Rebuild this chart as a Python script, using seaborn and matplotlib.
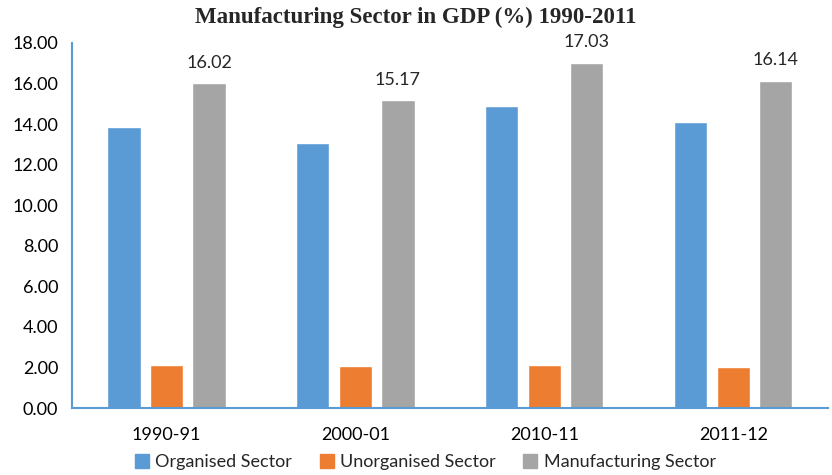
import matplotlib
matplotlib.use("Agg")
import matplotlib.pyplot as plt
import seaborn as sns
import pandas as pd
from matplotlib.ticker import FormatStrFormatter, MultipleLocator
from matplotlib.lines import Line2D

years = ["1990-91", "2000-01", "2010-11", "2011-12"]
series_names = ["Organised Sector", "Unorganised Sector", "Manufacturing Sector"]
organised = [13.85, 13.09, 14.90, 14.08]
unorganised = [2.13, 2.08, 2.13, 2.04]
manufacturing = [16.02, 15.17, 17.03, 16.14]
colors = ["#5B9BD5", "#ED7D31", "#A5A5A5"]

rows = []
for name, vals in zip(series_names, [organised, unorganised, manufacturing]):
    for y, v in zip(years, vals):
        rows.append({"Year": y, "Series": name, "Value": v})
df = pd.DataFrame(rows)

sns.set_theme(style="white")
plt.rcParams["font.family"] = ["Lato", "DejaVu Sans"]

fig = plt.figure(figsize=(8.32, 4.75), dpi=100)
ax = fig.add_axes([0.0865, 0.141, 0.9085, 0.7685])

sns.barplot(data=df, x="Year", y="Value", hue="Series", palette=colors,
            width=0.675, gap=0.22, ax=ax, legend=False, saturation=1)

ax.set_ylim(0, 18)
ax.set_xlim(-0.5, 3.5)
ax.yaxis.set_major_locator(MultipleLocator(2))
ax.yaxis.set_major_formatter(FormatStrFormatter("%.2f"))
ax.set_xlabel("")
ax.set_ylabel("")
ax.tick_params(axis="both", length=0, labelsize=13, colors="#000000")
ax.tick_params(axis="x", pad=14)
ax.tick_params(axis="y", pad=10)

for s in ["top", "right"]:
    ax.spines[s].set_visible(False)
for s in ["left", "bottom"]:
    ax.spines[s].set_color("#5B9BD5")
    ax.spines[s].set_linewidth(1.5)

# label only manufacturing bars
ax.bar_label(ax.containers[2], fmt="%.2f", padding=9, fontsize=13)

fig.text(0.5, 1 - 17 / 475, "Manufacturing Sector in GDP (%) 1990-2011",
         fontfamily="Liberation Serif", fontweight="bold", fontsize=16.5,
         ha="center", va="center")

handles = [Line2D([0], [0], marker="s", linestyle="", markersize=10,
                  markerfacecolor=c, markeredgecolor=c) for c in colors]
fig.legend(handles, series_names, loc="center", bbox_to_anchor=(0.51, 1 - 462 / 475),
           ncol=3, frameon=False, fontsize=13, handletextpad=0.25,
           columnspacing=1.4, handlelength=1.0)

fig.savefig("out.png", dpi=100)
